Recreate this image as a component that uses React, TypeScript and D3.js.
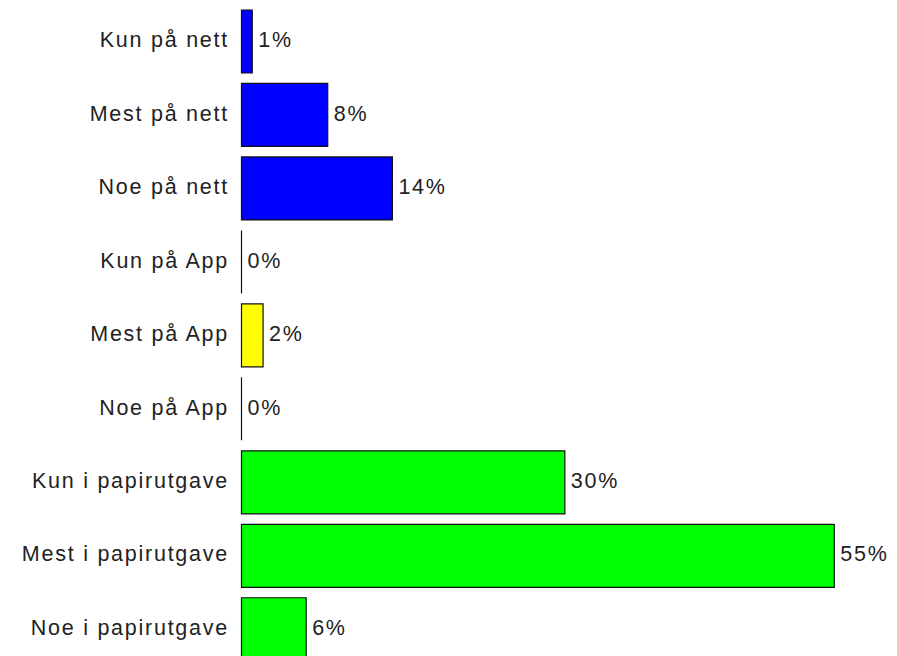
import React from "react";
import * as d3 from "d3";

const categories = [
  "Kun på nett",
  "Mest på nett",
  "Noe på nett",
  "Kun på App",
  "Mest på App",
  "Noe på App",
  "Kun i papirutgave",
  "Mest i papirutgave",
  "Noe i papirutgave",
];
const values = [1, 8, 14, 0, 2, 0, 30, 55, 6];
const colors = [
  "#0000ff", "#0000ff", "#0000ff",
  "#ffff00", "#ffff00", "#ffff00",
  "#00ff00", "#00ff00", "#00ff00",
];

const W = 897;
const H = 656;

export default function App() {
  const x = d3.scaleLinear().domain([0, 55]).range([241.5, 834.3]);
  const y = d3
    .scaleBand<string>()
    .domain(categories)
    .range([10, 660.76])
    .paddingInner(0.1425)
    .paddingOuter(0);
  const bw = y.bandwidth();
  const font = "'Liberation Sans', Arial, sans-serif";

  return (
    <svg
      width={W}
      height={H}
      style={{ position: "absolute", left: 0, top: 0, background: "#fff" }}
    >
      {categories.map((c, i) => {
        const y0 = y(c)!;
        const x0 = x(0);
        const x1 = x(values[i]);
        const cy = y0 + bw / 2;
        return (
          <g key={c}>
            <path
              d={`M${x0},${y0}H${x1}V${y0 + bw}H${x0}Z`}
              fill={colors[i]}
              stroke="#111"
              strokeWidth={1.2}
            />
            <text
              x={229}
              y={cy + 5.7}
              textAnchor="end"
              fontFamily={font}
              fontSize={21.5}
              letterSpacing={1.75}
              fill="#222"
            >
              {c}
            </text>
            <text
              x={x1 + 6}
              y={cy + 5.7}
              fontFamily={font}
              fontSize={21.5}
              letterSpacing={1.75}
              fill="#222"
            >
              {values[i] + "%"}
            </text>
          </g>
        );
      })}
    </svg>
  );
}
